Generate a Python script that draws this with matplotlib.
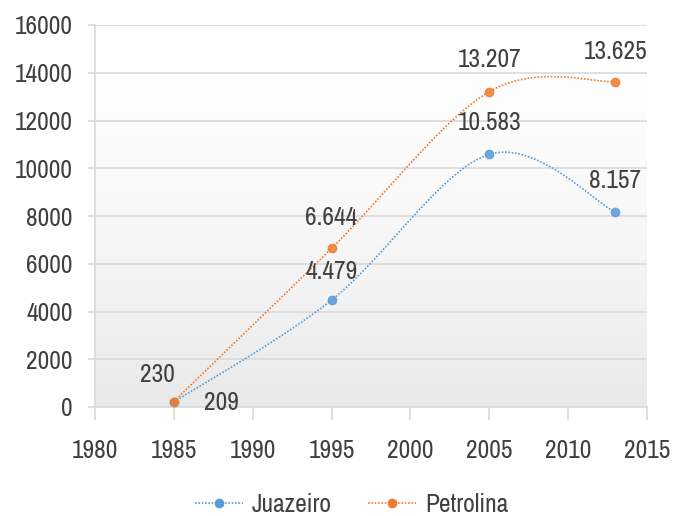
import numpy as np
import matplotlib
matplotlib.use("Agg")
import matplotlib.pyplot as plt
from matplotlib.lines import Line2D
from matplotlib import font_manager as fm
from matplotlib.colors import LinearSegmentedColormap

years = [1985, 1995, 2005, 2013]
juazeiro = [209, 4479, 10583, 8157]
petrolina = [230, 6644, 13207, 13625]
juazeiro_labels = ["209", "4.479", "10.583", "8.157"]
petrolina_labels = ["230", "6.644", "13.207", "13.625"]
xticks = [1980, 1985, 1990, 1995, 2000, 2005, 2010, 2015]
yticks = list(range(0, 16001, 2000))

# pick a narrow font if one exists
chosen = None
for f in fm.fontManager.ttflist:
    n = f.name.lower()
    if ("narrow" in n or "condensed" in n) and f.weight in (400, "normal", "regular") and f.style == "normal":
        chosen = f; break
if chosen is None:
    for f in fm.fontManager.ttflist:
        if f.stretch in ("condensed", "semi-condensed", "extra-condensed") and f.style == "normal" \
                and f.weight in (400, "normal", "regular"):
            chosen = f; break
if chosen is not None:
    FP = dict(fname=chosen.fname)
    fs = 18.3
else:
    FP = dict(family="Liberation Sans")
    fs = 15.5

def fp(size=None):
    return fm.FontProperties(size=size or fs, **FP)

BLUE = "#5b9bd5"
ORANGE = "#ed7d31"
TXT = "#404040"

def smooth(x, y, n=40):
    # Excel-like smoothing (Catmull-Rom Bezier)
    x = np.asarray(x, float); y = np.asarray(y, float)
    px = np.concatenate([[x[0]], x, [x[-1]]])
    py = np.concatenate([[y[0]], y, [y[-1]]])
    xs, ys = [], []
    for i in range(1, len(px) - 2):
        p0 = np.array([px[i-1], py[i-1]]); p1 = np.array([px[i], py[i]])
        p2 = np.array([px[i+1], py[i+1]]); p3 = np.array([px[i+2], py[i+2]])
        c1 = p1 + (p2 - p0) / 6.0
        c2 = p2 - (p3 - p1) / 6.0
        t = np.linspace(0, 1, n)[:, None]
        b = (1-t)**3*p1 + 3*(1-t)**2*t*c1 + 3*(1-t)*t**2*c2 + t**3*p2
        xs.append(b[:, 0]); ys.append(b[:, 1])
    return np.concatenate(xs), np.concatenate(ys)

fig = plt.figure(figsize=(6.76, 5.16), dpi=100)
ax = fig.add_axes([95/676, 1-407/516, 552/676, 382/516])
ax.set_xlim(1980, 2015)
ax.set_ylim(0, 16000)

grad = np.linspace(0, 1, 256)[:, None] ** 1.6
cmap = LinearSegmentedColormap.from_list("g", ["#ffffff", "#e9e9e9"])
ax.imshow(grad, aspect="auto", cmap=cmap, extent=[0, 1, 0, 1], transform=ax.transAxes,
          zorder=0, interpolation="bilinear")

for yv in yticks:
    ax.axhline(yv, color="#d9d9d9", lw=1.2, zorder=1)

for vals, col in [(juazeiro, BLUE), (petrolina, ORANGE)]:
    sx, sy = smooth(years, vals)
    ax.plot(sx, sy, color=col, lw=1.2, ls=(0, (1, 1)), zorder=3)
    ax.plot(years, vals, 'o', color=col, ms=6, mec=col, mfc=col, zorder=4, alpha=0.85)

offs_j = [(48, 0), (0, 29), (0, 32), (0, 32)]
offs_p = [(-16, 27), (0, 31), (0, 32), (0, 30)]
for x, y, lab, o in zip(years, juazeiro, juazeiro_labels, offs_j):
    ax.annotate(lab, (x, y), xytext=o, textcoords="offset pixels", ha="center", va="center",
                fontproperties=fp(), color=TXT, zorder=5)
for x, y, lab, o in zip(years, petrolina, petrolina_labels, offs_p):
    ax.annotate(lab, (x, y), xytext=o, textcoords="offset pixels", ha="center", va="center",
                fontproperties=fp(), color=TXT, zorder=5)

ax.set_xticks(xticks)
ax.set_yticks(yticks)
ax.set_xticklabels([str(v) for v in xticks], fontproperties=fp(), color=TXT)
ax.set_yticklabels([str(v) for v in yticks], fontproperties=fp(), color=TXT)
ax.tick_params(axis="x", length=9, width=1.2, color="#d9d9d9", pad=14)
ax.tick_params(axis="y", length=5, width=1.2, color="#d9d9d9", pad=11)
for s in ["top", "right"]:
    ax.spines[s].set_visible(False)
for s in ["left", "bottom"]:
    ax.spines[s].set_color("#d9d9d9")
    ax.spines[s].set_linewidth(1.2)

handles = [Line2D([], [], color=BLUE, ls=(0, (1, 1)), lw=1.2, marker='o', ms=6),
           Line2D([], [], color=ORANGE, ls=(0, (1, 1)), lw=1.2, marker='o', ms=6)]
fig.legend(handles, ["Juazeiro", "Petrolina"], loc="center", bbox_to_anchor=(0.52, 0.022),
           ncol=2, frameon=False, prop=fp(), labelcolor=TXT, handlelength=1.9,
           columnspacing=1.4, handletextpad=0.35)

fig.savefig("out.png", dpi=100)
